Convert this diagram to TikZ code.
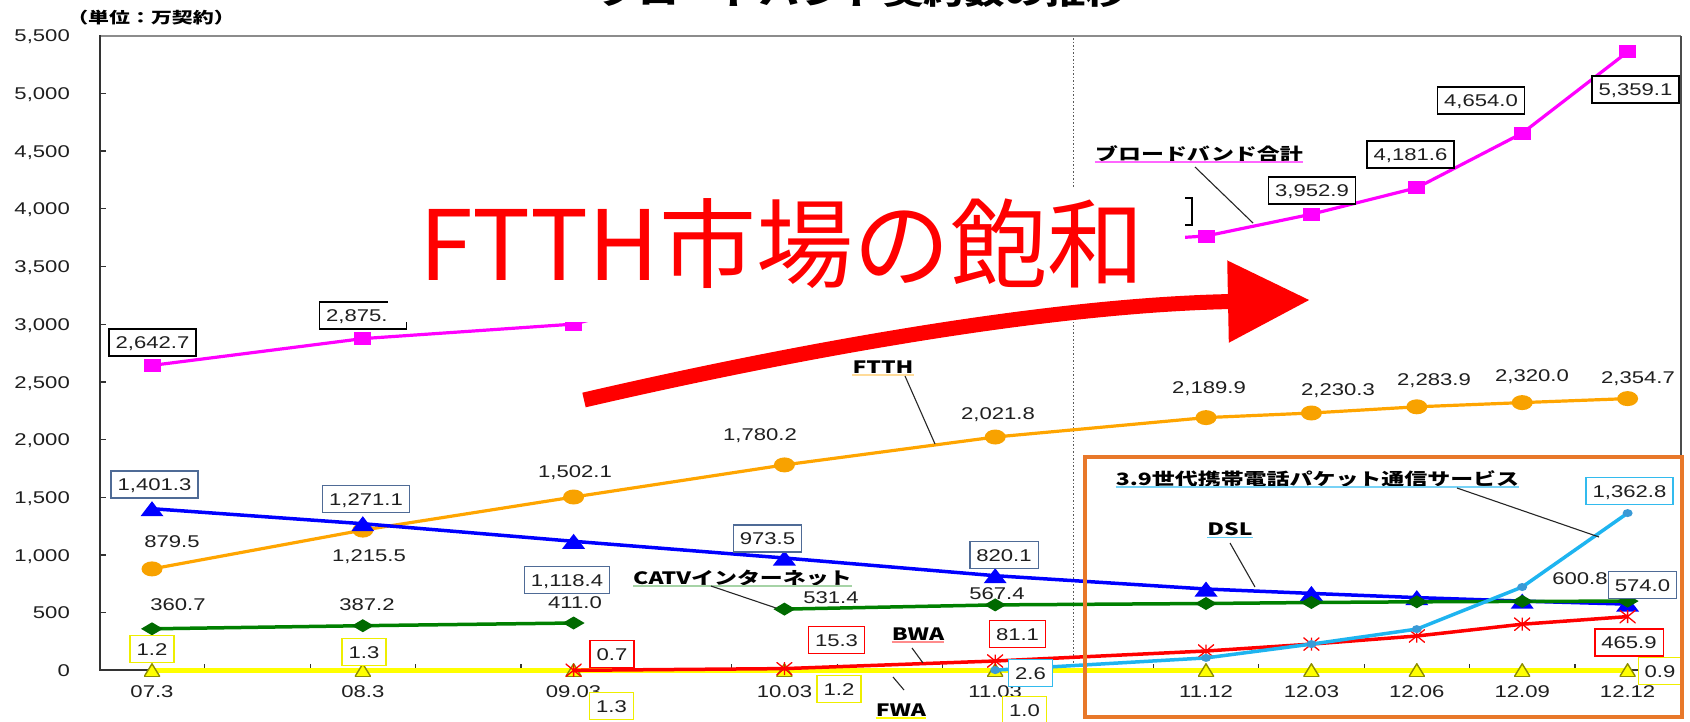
\documentclass[tikz,border=0pt]{standalone}
\usepackage{fontspec}
\usetikzlibrary{shapes.geometric,arrows.meta}
\newfontfamily\numfont[FakeStretch=1.3]{Liberation Sans}
\newfontfamily\jpfont[FakeStretch=1.35]{Noto Sans CJK JP}
\newfontfamily\bigfont{Noto Sans CJK JP}
\definecolor{bbc}{HTML}{FF00FF}
\definecolor{ftc}{HTML}{FFA500}
\definecolor{ftm}{HTML}{F8A200}
\definecolor{dsc}{HTML}{0000FF}
\definecolor{cac}{HTML}{008000}
\definecolor{cam}{HTML}{006A00}
\definecolor{bwc}{HTML}{FF0000}
\definecolor{fwc}{HTML}{FFFF00}
\definecolor{fwb}{HTML}{EEEE00}
\definecolor{fwo}{HTML}{8C8C00}
\definecolor{ltc}{HTML}{1EB4F0}
\definecolor{ltm}{HTML}{3A9AD6}
\definecolor{dsbox}{HTML}{4F6B96}
\definecolor{ltbox}{HTML}{33BBEE}
\definecolor{hlc}{HTML}{E8782A}
\begin{document}
\begin{tikzpicture}[x=1pt,y=-1pt,
  num/.style={font=\numfont\fontsize{17}{17}\selectfont, text height=12.2pt, text depth=0pt, inner sep=0pt, text=black!88},
  lbox/.style={num, draw=#1, fill=white, line width=1.3pt, inner xsep=6.5pt, inner ysep=7.4pt},
  nm/.style={font=\jpfont\bfseries\fontsize{17}{17}\selectfont, inner sep=0pt, anchor=base, text=black},
  ptr/.style={draw=black!85, line width=1.1pt},
  ul/.style={draw=#1, line width=1.6pt},
  sline/.style={draw=#1, line width=3.2pt, line join=round},
  sqmk/.style={rectangle, fill=bbc, minimum width=17pt, minimum height=13pt, inner sep=0pt},
  elmk/.style={ellipse, fill=ftm, minimum width=21pt, minimum height=15pt, inner sep=0pt},
  trimk/.style={rectangle, inner sep=0pt, minimum width=23pt, minimum height=15pt, path picture={\fill[dsc] (path picture bounding box.south west) -- (path picture bounding box.south east) -- (path picture bounding box.north) -- cycle;}},
  diamk/.style={rectangle, inner sep=0pt, minimum width=22pt, minimum height=13pt, path picture={\fill[cam] (path picture bounding box.west) -- (path picture bounding box.north) -- (path picture bounding box.east) -- (path picture bounding box.south) -- cycle;}},
  astmk/.style={rectangle, inner sep=0pt, minimum width=16pt, minimum height=13pt, path picture={\draw[bwc, line width=1.3pt] (path picture bounding box.south west) -- (path picture bounding box.north east) (path picture bounding box.north west) -- (path picture bounding box.south east) (path picture bounding box.north) -- (path picture bounding box.south);}},
  fwmk/.style={rectangle, inner sep=0pt, minimum width=16pt, minimum height=13pt, path picture={\filldraw[fill=fwc, draw=fwo, line width=1.4pt] (path picture bounding box.south west) -- (path picture bounding box.south east) -- (path picture bounding box.north) -- cycle;}},
  dotmk/.style={ellipse, fill=ltm, minimum width=10pt, minimum height=8pt, inner sep=0pt},
]
\useasboundingbox (0,0) rectangle (1690,721);
\fill[white] (0,0) rectangle (1690,721);

% title (cut at top) and unit
\node[font=\jpfont\bfseries\fontsize{30}{30}\selectfont, anchor=base, inner sep=0pt] (title) at (862,4) {ブロードバンド契約数の推移};
\node[font=\jpfont\bfseries\fontsize{15.5}{15.5}\selectfont, inner sep=0pt] (unit) at (151,18) {（単位：万契約）};

% frame and axes
\draw[draw=black!45, line width=2.5pt] (100,36) -- (1681,36);
\draw[draw=black!70, line width=1.3pt] (1681,36) -- (1681,670.4);
\draw[draw=black!80, line width=2pt] (100,35) -- (100,670.4) -- (1681,670.4);
\foreach \yy in {612.7,555.0,497.3,439.6,381.9,324.1,266.4,208.7,151.0,93.3}
  \draw[black!80, line width=1.2pt] (100,\yy) -- (106,\yy);
\foreach \k in {1,...,14}
  \draw[black!80, line width=1.2pt] ({99.3+105.4*\k},670.4) -- ({99.3+105.4*\k},664);

% y labels
\node[num, anchor=east] (y11) at (70,35.6) {5,500};
\node[num, anchor=east] (y10) at (70,93.3) {5,000};
\node[num, anchor=east] (y9) at (70,151.0) {4,500};
\node[num, anchor=east] (y8) at (70,208.7) {4,000};
\node[num, anchor=east] (y7) at (70,266.4) {3,500};
\node[num, anchor=east] (y6) at (70,324.1) {3,000};
\node[num, anchor=east] (y5) at (70,381.9) {2,500};
\node[num, anchor=east] (y4) at (70,439.6) {2,000};
\node[num, anchor=east] (y3) at (70,497.3) {1,500};
\node[num, anchor=east] (y2) at (70,555.0) {1,000};
\node[num, anchor=east] (y1) at (70,612.7) {500};
\node[num, anchor=east] (y0) at (70,670.4) {0};

% category labels
\node[num] (c1) at (152,691.5) {07.3};
\node[num] (c2) at (362.8,691.5) {08.3};
\node[num] (c3) at (573.6,691.5) {09.03};
\node[num] (c4) at (784.4,691.5) {10.03};
\node[num] (c5) at (995.2,691.5) {11.03};
\node[num] (c6) at (1206,691.5) {11.12};
\node[num] (c7) at (1311.4,691.5) {12.03};
\node[num] (c8) at (1416.8,691.5) {12.06};
\node[num] (c9) at (1522.2,691.5) {12.09};
\node[num] (c10) at (1627.6,691.5) {12.12};

% dotted divider
\coordinate (dvA) at (1073.5,38);
\coordinate (dvB) at (1073.5,670);
\draw[black!65, line width=1.5pt, dotted] (dvA) -- (dvB);

% ---- FWA (yellow)
\foreach \n/\x in {1/152,2/362.8,3/573.6,4/784.4,5/995.2,6/1206,7/1311.4,8/1416.8,9/1522.2,10/1627.6}
  \coordinate (fw\n) at (\x,670.3);
\draw[sline=fwc, line width=5.5pt] (fw1) -- (fw10);
\foreach \n in {1,...,10} \node[fwmk] (fwm\n) at (fw\n) {};

% ---- Broadband total (magenta)
\foreach \n/\x/\y in {1/152/365.4,2/362.8/338.6,3/573.6/324.1,4/784.4/269.9,5/995.2/249.1,6/1206/236,7/1311.4/214.2,8/1416.8/187.8,9/1522.2/133.2,10/1627.6/51.9}
  \coordinate (bb\n) at (\x,\y);
\draw[sline=bbc] (bb1) \foreach \n in {2,...,10}{ -- (bb\n)};
\foreach \n in {1,...,10} \node[sqmk] (bbm\n) at (bb\n) {};

% ---- FTTH (orange)
\foreach \n/\x/\y in {1/152/568.9,2/362.8/530.1,3/573.6/497.0,4/784.4/464.9,5/995.2/437.0,6/1206/417.6,7/1311.4/413.0,8/1416.8/406.8,9/1522.2/402.6,10/1627.6/398.6}
  \coordinate (ft\n) at (\x,\y);
\draw[sline=ftc] (ft1) \foreach \n in {2,...,10}{ -- (ft\n)};
\foreach \n in {1,...,10} \node[elmk] (ftm\n) at (ft\n) {};

% ---- DSL (blue)
\foreach \n/\x/\y in {1/152/508.7,2/362.8/523.7,3/573.6/541.3,4/784.4/558.0,5/995.2/575.7,6/1206/589.0,7/1311.4/593.4,8/1416.8/597.6,9/1522.2/601.1,10/1627.6/604.1}
  \coordinate (ds\n) at (\x,\y);
\draw[sline=dsc, line width=3.5pt] (ds1) \foreach \n in {2,...,10}{ -- (ds\n)};
\foreach \n in {1,...,10} \node[trimk] (dsm\n) at (ds\n) {};

% ---- CATV (green)
\foreach \n/\x/\y in {1/152/628.8,2/362.8/625.7,3/573.6/623.0,4/784.4/609.1,5/995.2/604.9,6/1206/603.5,7/1311.4/602.5,8/1416.8/601.8,9/1522.2/601.4,10/1627.6/601.1}
  \coordinate (ca\n) at (\x,\y);
\draw[sline=cac, line width=3.5pt] (ca1) -- (ca2) -- (ca3);
\draw[sline=cac, line width=3.5pt] (ca4) \foreach \n in {5,...,10}{ -- (ca\n)};
\foreach \n in {1,...,10} \node[diamk] (cam\n) at (ca\n) {};

% ---- BWA (red)
\foreach \n/\x/\y in {1/573.6/670.3,2/784.4/668.6,3/995.2/661.0,4/1206/651.0,5/1311.4/644.1,6/1416.8/636.0,7/1522.2/624.2,8/1627.6/616.6}
  \coordinate (bw\n) at (\x,\y);
\draw[sline=bwc, line width=3.5pt] (bw1) \foreach \n in {2,...,8}{ -- (bw\n)};
\foreach \n in {1,...,8} \node[astmk] (bwm\n) at (bw\n) {};

% ---- 3.9G (light blue)
\foreach \n/\x/\y in {1/995.2/670.1,2/1206/657.9,3/1311.4/644.1,4/1416.8/629.1,5/1522.2/587.0,6/1627.6/513.1}
  \coordinate (lt\n) at (\x,\y);
\draw[sline=ltc, line width=3.5pt] (lt1) \foreach \n in {2,...,6}{ -- (lt\n)};
\foreach \n in {1,...,6} \node[dotmk] (ltm\n) at (lt\n) {};

% ---- data labels: broadband total
\node[lbox=black] (bbl1) at (152.5,342.5) {2,642.7};
\node[lbox=black] (bbl2) at (363,315.5) {2,875.\phantom{0}};
\node[lbox=black, minimum width=86pt, minimum height=27pt] (bbl6) at (1149,211.5) {};
\node[lbox=black] (bbl7) at (1312,190.5) {3,952.9};
\node[lbox=black] (bbl8) at (1410.5,154.5) {4,181.6};
\node[lbox=black] (bbl9) at (1481,100.5) {4,654.0};
\node[lbox=black] (bbl10) at (1635.5,89.5) {5,359.1};

% FTTH
\node[num] (ftl1) at (172,541) {879.5};
\node[num] (ftl2) at (369,555) {1,215.5};
\node[num] (ftl3) at (575,471) {1,502.1};
\node[num] (ftl4) at (760,434) {1,780.2};
\node[num] (ftl5) at (998,413) {2,021.8};
\node[num] (ftl6) at (1209,387) {2,189.9};
\node[num] (ftl7) at (1338,389) {2,230.3};
\node[num] (ftl8) at (1434,379) {2,283.9};
\node[num] (ftl9) at (1532,375) {2,320.0};
\node[num] (ftl10) at (1638,377) {2,354.7};

% DSL
\node[lbox=dsbox] (dsl1) at (154.5,484.5) {1,401.3};
\node[lbox=dsbox] (dsl2) at (366,499) {1,271.1};
\node[lbox=dsbox] (dsl3) at (567,580) {1,118.4};
\node[lbox=dsbox] (dsl4) at (767.5,538.5) {973.5};
\node[lbox=dsbox] (dsl5) at (1004,555) {820.1};
\node[lbox=dsbox] (dsl10) at (1642.5,585) {574.0};

% CATV
\node[num] (cal1) at (178,604) {360.7};
\node[num] (cal2) at (367,604) {387.2};
\node[num] (cal3) at (575,602) {411.0};
\node[num] (cal4) at (831,597) {531.4};
\node[num] (cal5) at (997,593) {567.4};
\node[num] (cal10) at (1580,578) {600.8};

% BWA
\node[lbox=bwc] (bwl1) at (612,654) {0.7};
\node[lbox=bwc] (bwl2) at (836.5,640) {15.3};
\node[lbox=bwc] (bwl3) at (1017.5,634) {81.1};
\node[lbox=bwc] (bwl8) at (1629,642.5) {465.9};

% FWA
\node[lbox=fwb] (fwl1) at (152,649) {1.2};
\node[lbox=fwb] (fwl2) at (364,652) {1.3};
\node[lbox=fwb] (fwl3) at (611.5,706) {1.3};
\node[lbox=fwb] (fwl4) at (839,689) {1.2};
\node[lbox=fwb] (fwl5) at (1024.5,710) {1.0};
\node[lbox=fwb] (fwl10) at (1660,671) {0.9};

% 3.9G
\node[lbox=ltbox] (ltl1) at (1030.5,673) {2.6};
\node[lbox=ltbox] (ltl6) at (1629.5,491) {1,362.8};

% ---- series names with underline and leader
\node[nm] (nbb) at (1199,160) {ブロードバンド合計};
\draw[ul=bbc!60] ([yshift=-2pt]nbb.base west) -- ([yshift=-2pt]nbb.base east);
\coordinate (pbbA) at (1195,167); \coordinate (pbbB) at (1253,223);
\draw[ptr] (pbbA) -- (pbbB);

\node[nm] (nft) at (883,373) {FTTH};
\node[nm] (nca) at (742.5,584) {CATVインターネット};
\node[nm] (nds) at (1230,535.5) {DSL};
\node[nm] (nlt) at (1317.5,485) {3.9世代携帯電話パケット通信サービス};
\node[nm] (nbw) at (918,640) {BWA};
\node[nm] (nfw) at (901,716) {FWA};
\draw[ul=ftc!40] ([yshift=-1.8pt]nft.base west) -- ([yshift=-1.8pt]nft.base east);
\draw[ul=cac!35] ([yshift=-1.8pt]nca.base west) -- ([yshift=-1.8pt]nca.base east);
\draw[ul=ltc!70] ([yshift=-1.8pt]nds.base west) -- ([yshift=-1.8pt]nds.base east);
\draw[ul=ltc!60] ([yshift=-2pt]nlt.base west) -- ([yshift=-2pt]nlt.base east);
\draw[ul=bwc!45] ([yshift=-1.8pt]nbw.base west) -- ([yshift=-1.8pt]nbw.base east);
\draw[ul=fwc] ([yshift=-1.8pt]nfw.base west) -- ([yshift=-1.8pt]nfw.base east);
\coordinate (pftA) at (905,376); \coordinate (pftB) at (935,444);
\coordinate (pcaA) at (711,586); \coordinate (pcaB) at (776,608);
\coordinate (pdsA) at (1230,543); \coordinate (pdsB) at (1255,587);
\coordinate (pltA) at (1457,488); \coordinate (pltB) at (1599,537);
\coordinate (pbwA) at (912,648); \coordinate (pbwB) at (923,663);
\coordinate (pfwA) at (893,677); \coordinate (pfwB) at (904,690);
\draw[ptr] (pftA) -- (pftB);
\draw[ptr] (pcaA) -- (pcaB);
\draw[ptr] (pdsA) -- (pdsB);
\draw[ptr] (pltA) -- (pltB);
\draw[ptr] (pbwA) -- (pbwB);
\draw[ptr] (pfwA) -- (pfwB);

% ---- highlight box
\draw[hlc, line width=3.5pt] (1085,457) rectangle (1682,717);

% ---- overlay annotation
\fill[white] (388,187) rectangle (1185,322);
\node[font=\bigfont\fontsize{97}{97}\selectfont, text=bwc, anchor=base west, inner sep=0pt] (big) at (419,280) {FTTH市場の飽和};
\coordinate (arrS) at (584,400);
\coordinate (arrE) at (1310,300);
\draw[bwc, line width=15pt, -{Triangle[length=82pt 0 0, width=78pt 0 0]}] (arrS) .. controls (800,350) and (1050,305) .. (arrE);
\end{tikzpicture}
\end{document}
